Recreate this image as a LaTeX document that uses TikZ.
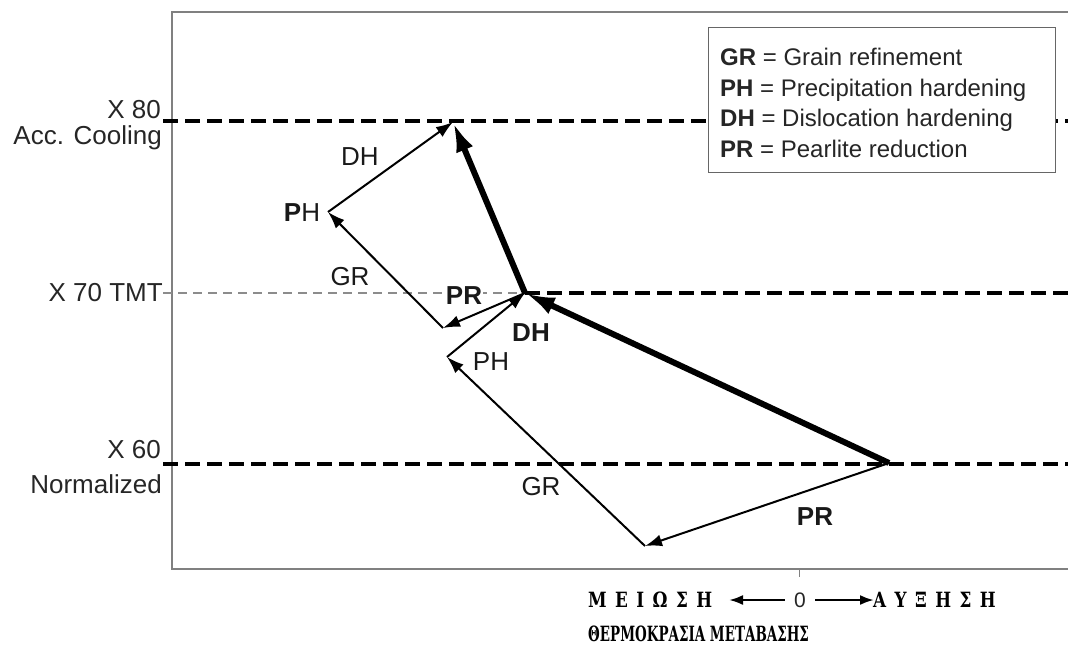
\documentclass[tikz,border=0pt]{standalone}
\usepackage{fontspec}
\setmainfont{Liberation Sans}
\newfontfamily\grk{DejaVu Serif}[BoldFont={DejaVu Serif Bold}]
\usetikzlibrary{arrows.meta}
\begin{document}
\begin{tikzpicture}[x=1pt,y=-1pt,
  thinvec/.style={line width=2pt,-{Latex[length=17pt,width=12pt]}},
  thickvec/.style={line width=6pt,-{Latex[length=30pt,width=18pt]}},
  level/.style={line width=3.2pt,dash pattern=on 15pt off 7pt},
  lightlevel/.style={line width=1.3pt,black!45,dash pattern=on 9pt off 6pt},
  axlab/.style={font=\fontsize{26}{28}\selectfont,text=black!85,anchor=east,inner sep=0pt},
  veclab/.style={font=\fontsize{26}{28}\selectfont,text=black!90,inner sep=0pt},
  leg/.style={font=\fontsize{24}{28}\selectfont,anchor=base west,inner sep=0pt,text=black!85},
  frame/.style={line width=1.5pt,black!50},
  grkrow/.style={font=\grk\bfseries\fontsize{21}{22}\selectfont\addfontfeature{LetterSpace=50},inner sep=0pt},
  grktitle/.style={font=\grk\bfseries\fontsize{21}{22}\selectfont,inner sep=0pt},
  axarrow/.style={line width=2.4pt,-{Latex[length=14pt,width=10pt]}}]
\useasboundingbox (0,0) rectangle (1068,646);
% frame
\draw[frame] (1068,12) -- (172,12) -- (172,569) -- (1068,569);
\draw[frame,line width=1pt] (799,569) -- (799,577);
% points
\coordinate (A) at (453,122);
\coordinate (B) at (328,212);
\coordinate (G) at (443,328);
\coordinate (C) at (525,293);
\coordinate (F) at (447,357);
\coordinate (E) at (645,546);
\coordinate (D) at (889,463);
\coordinate (L80) at (163,121);
\coordinate (R80) at (1068,121);
\coordinate (L70) at (163,293);
\coordinate (R70) at (1068,293);
\coordinate (L60) at (163,464);
\coordinate (R60) at (1068,464);
% level lines
\draw[level] (L80) -- (R80);
\draw[lightlevel] (L70) -- (C);
\draw[level] (C) -- (R70);
\draw[level] (L60) -- (R60);
% axis labels
\node[axlab] (x80) at (161,110) {X 80};
\node[axlab] (acc) at (162,138) {Acc. Cooling};
\node[axlab] (x70) at (163,293) {X 70 TMT};
\node[axlab] (x60) at (161,450) {X 60};
\node[axlab] (norm) at (162,484) {Normalized};
% vectors
\draw[thickvec] (D) -- (C);
\draw[thickvec] (C) -- (A);
\draw[thinvec] (C) -- (G);
\draw[thinvec] (G) -- (B);
\draw[thinvec] (B) -- (A);
\draw[thinvec] (D) -- (E);
\draw[thinvec] (E) -- (F);
\draw[thinvec] (F) -- (C);
% vector labels
\node[veclab] (lDH1) at (360,157) {DH};
\node[veclab] (lPH1) at (302,213) {\textbf{P}H};
\node[veclab] (lGR1) at (350,277) {GR};
\node[veclab,fill=white,inner sep=1pt] (lPR1) at (464,296) {\textbf{PR}};
\node[veclab] (lDH2) at (531,333) {\textbf{DH}};
\node[veclab] (lPH2) at (491,362) {PH};
\node[veclab] (lGR2) at (541,487) {GR};
\node[veclab] (lPR2) at (815,517) {\textbf{PR}};
% legend
\node[draw=black!60,line width=1.2pt,fill=white,anchor=north west,minimum width=347pt,minimum height=145pt,inner sep=0pt] (legend) at (708,27) {};
\node[leg] (g1) at (720,65) {\textbf{GR} = Grain refinement};
\node[leg] (g2) at (720,96) {\textbf{PH} = Precipitation hardening};
\node[leg] (g3) at (720,126) {\textbf{DH} = Dislocation hardening};
\node[leg] (g4) at (720,157) {\textbf{PR} = Pearlite reduction};
% bottom axis text
\node[font=\fontsize{21}{24}\selectfont,text=black!85,inner sep=0pt] (zero) at (800,600) {0};
\node[grkrow,anchor=west] (meiosi) at (588,600) {\scalebox{0.8}[1]{ΜΕΙΩΣΗ}};
\node[grkrow,anchor=west] (afxisi) at (873,600) {\scalebox{0.8}[1]{ΑΥΞΗΣΗ}};
\coordinate (ltip) at (729,600);
\coordinate (rtip) at (874,600);
\draw[axarrow] ([xshift=-9pt]zero.west) -- (ltip);
\draw[axarrow] ([xshift=9pt]zero.east) -- (rtip);
\node[grktitle,anchor=west] (title) at (588,634) {\scalebox{0.64}[1]{ΘΕΡΜΟΚΡΑΣΙΑ ΜΕΤΑΒΑΣΗΣ}};
\end{tikzpicture}
\end{document}
